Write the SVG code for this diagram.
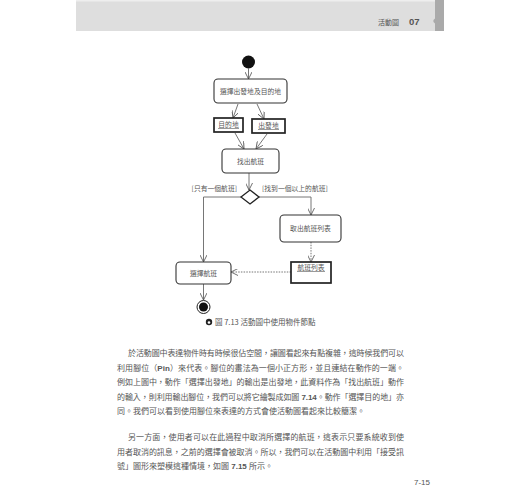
<svg xmlns="http://www.w3.org/2000/svg" width="520" height="500" viewBox="0 0 520 500">
<defs>
<marker id="arr" viewBox="0 0 10 10" refX="10" refY="5" markerWidth="7" markerHeight="7" orient="auto" markerUnits="userSpaceOnUse">
<path d="M0,0 L10,5 L0,10" fill="none" stroke="#555" stroke-width="1.2"/>
</marker>
</defs>
<style>
.act{fill:#fff;stroke:#333;stroke-width:1.1}
.obj{fill:#fff;stroke:#222;stroke-width:1.7}
.lbl{font-family:"Noto Sans CJK TC","Noto Sans",sans-serif;font-size:6.8px;fill:#555;text-anchor:middle}
.grd{font-family:"Noto Sans CJK TC","Noto Sans",sans-serif;font-size:6.8px;fill:#555}
.ln{fill:none;stroke:#666;stroke-width:0.9}
.dash{fill:none;stroke:#666;stroke-width:0.9;stroke-dasharray:1.5 1.2}
.body{font-family:"Liberation Sans","Noto Sans CJK TC",sans-serif;font-size:8px;fill:#555}
.ul{stroke:#555;stroke-width:0.6}
</style>
<rect width="520" height="500" fill="#fff"/>
<g id="header">
<rect x="76" y="0" width="368" height="31" fill="#dedede"/>
<rect x="76" y="0" width="368" height="1.5" fill="#eeeeee"/>
<rect x="435" y="0" width="9" height="31" fill="#aaaaaa"/>
<path d="M435,18.5 Q431.5,21 435,23.5 Z" fill="#aaaaaa"/>
<text x="378" y="24.5" font-family="Noto Sans CJK TC,sans-serif" font-size="7px" fill="#555">活動圖</text>
<text x="409" y="25" font-family="Liberation Sans,sans-serif" font-size="9.5px" font-weight="bold" fill="#555">07</text>
</g>
<g id="connectors">
<line class="ln" x1="248.5" y1="68.5" x2="248.5" y2="79" marker-end="url(#arr)"/>
<line class="ln" x1="238" y1="104" x2="233" y2="118" marker-end="url(#arr)"/>
<line class="ln" x1="257" y1="104" x2="264" y2="119" marker-end="url(#arr)"/>
<line class="ln" x1="235" y1="133" x2="244" y2="149" marker-end="url(#arr)"/>
<line class="ln" x1="267" y1="134" x2="256" y2="149" marker-end="url(#arr)"/>
<line class="ln" x1="249" y1="173" x2="249" y2="190" marker-end="url(#arr)"/>
<polyline class="ln" points="241,197 203.5,197 203.5,262" marker-end="url(#arr)"/>
<polyline class="ln" points="259,197 311,197 311,215" marker-end="url(#arr)"/>
<line class="dash" x1="311" y1="242" x2="311" y2="262" marker-end="url(#arr)"/>
<line class="dash" x1="291" y1="272" x2="231" y2="272" marker-end="url(#arr)"/>
<line class="ln" x1="203.5" y1="284" x2="203.5" y2="300" marker-end="url(#arr)"/>
<text class="grd" x="237" y="191" text-anchor="end">[只有一個航班]</text>
<text class="grd" x="262" y="191">[找到一個以上的航班]</text>
</g>
<g id="start"><circle cx="248.5" cy="62" r="6.5" fill="#111"/></g>
<g id="selectSrcDst">
<rect class="act" x="214" y="79" width="73" height="24" rx="4"/>
<text class="lbl" x="250.5" y="93.5">選擇出發地及目的地</text>
</g>
<g id="pinDst">
<rect class="obj" x="214" y="118" width="29" height="14"/>
<text class="lbl" x="228.5" y="127">目的地</text>
<line class="ul" x1="218" y1="128.5" x2="239" y2="128.5"/>
</g>
<g id="pinSrc">
<rect class="obj" x="252" y="119" width="33" height="14"/>
<text class="lbl" x="268.5" y="128">出發地</text>
<line class="ul" x1="258" y1="129.5" x2="279" y2="129.5"/>
</g>
<g id="findFlight">
<rect class="act" x="222" y="149" width="57" height="24" rx="4"/>
<text class="lbl" x="250.5" y="163.5">找出航班</text>
</g>
<g id="decision">
<polygon points="250,190 259,197 250,204 241,197" fill="#fff" stroke="#222" stroke-width="1.3"/>
</g>
<g id="getList">
<rect class="act" x="280" y="215" width="61" height="27" rx="4"/>
<text class="lbl" x="310.5" y="231">取出航班列表</text>
</g>
<g id="flightList">
<rect class="obj" x="291" y="262" width="40" height="21"/>
<text class="lbl" x="311" y="270">航班列表</text>
<line class="ul" x1="297" y1="271.5" x2="325" y2="271.5"/>
</g>
<g id="selectFlight">
<rect class="act" x="176" y="262" width="55" height="22" rx="4"/>
<text class="lbl" x="203.5" y="275.5">選擇航班</text>
</g>
<g id="end">
<circle cx="203.5" cy="307" r="6.5" fill="#fff" stroke="#222" stroke-width="1"/>
<circle cx="203.5" cy="307" r="4.5" fill="#111"/>
</g>
<g id="caption">
<circle cx="209" cy="322" r="3.2" fill="#222"/>
<circle cx="209" cy="322.5" r="1.3" fill="#fff"/>
<text x="215" y="325" font-family="Noto Sans CJK TC,sans-serif" font-size="7.5px" fill="#555">圖 7.13  活動圖中使用物件節點</text>
</g>
<g id="bodytext">
<text class="body" x="128" y="356" textLength="276" lengthAdjust="spacing">於活動圖中表達物件時有時候很佔空間，讓圖看起來有點複雜，這時候我們可以</text>
<text class="body" x="117" y="370.5" textLength="287" lengthAdjust="spacing">利用腳位（<tspan font-weight="bold">Pin</tspan>）來代表。腳位的畫法為一個小正方形，並且連結在動作的一端。</text>
<text class="body" x="117" y="385" textLength="287" lengthAdjust="spacing">例如上圖中，動作「選擇出發地」的輸出是出發地，此資料作為「找出航班」動作</text>
<text class="body" x="117" y="399.5" textLength="287" lengthAdjust="spacing">的輸入，則利用輸出腳位，我們可以將它繪製成如圖 <tspan font-weight="bold">7.14</tspan>。動作「選擇目的地」亦</text>
<text class="body" x="117" y="414">同。我們可以看到使用腳位來表達的方式會使活動圖看起來比較簡潔。</text>
<text class="body" x="128" y="440" textLength="276" lengthAdjust="spacing">另一方面，使用者可以在此過程中取消所選擇的航班，這表示只要系統收到使</text>
<text class="body" x="117" y="454.5" textLength="287" lengthAdjust="spacing">用者取消的訊息，之前的選擇會被取消。所以，我們可以在活動圖中利用「接受訊</text>
<text class="body" x="117" y="469">號」圖形來塑模這種情境，如圖 <tspan font-weight="bold">7.15</tspan> 所示。</text>
</g>
<g id="pagenum">
<text x="430" y="485" text-anchor="end" font-family="Liberation Sans,sans-serif" font-size="8px" fill="#555">7-15</text>
</g>
</svg>
